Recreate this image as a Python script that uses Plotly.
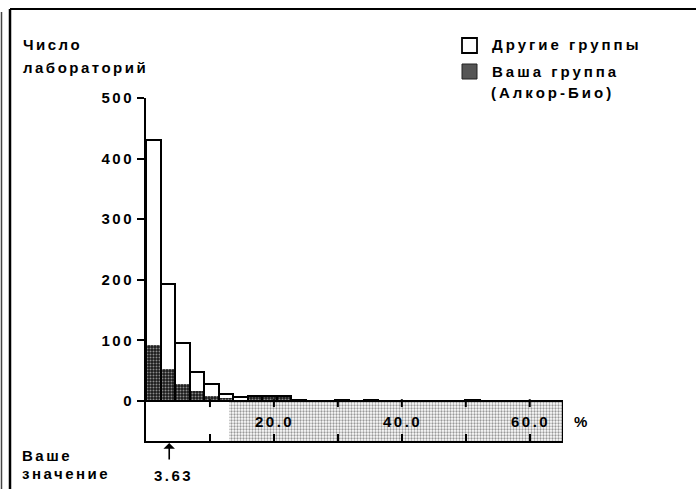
import plotly.graph_objects as go

# ---- data ----
bin_width = 2.27
total_counts = [430, 193, 95, 48, 28, 12, 6, 8, 8, 8, 2, 0, 0, 1, 0, 1, 0, 0, 0, 0, 0, 0, 1]
your_counts = [93, 52, 28, 17, 9, 5, 1, 8, 8, 8, 0, 0, 0, 0, 0, 0, 0, 0, 0, 0, 0, 0, 0]
y_ticks = [0, 100, 200, 300, 400, 500]
x_ticks = [10, 20, 30, 40, 50, 60]
x_label_vals = [20, 40, 60]
x_label_text = ["20.0", "40.0", "60.0"]
your_value = 3.63
your_value_text = "3.63"
limit_start = 13.0
x_max = 65.2
y_min = -66
y_max = 500
legend_other = "Другие группы"
legend_yours = ["Ваша группа", "(Алкор-Био)"]

W, H = 696, 489
L, R, T, B = 146, 133, 98, 48
FONT = "Liberation Sans, Arial, sans-serif"


def sp(text, s=2.5):
    return f"<span style='letter-spacing:{s}px'>{text}</span>"


def pxx(px):
    return (px - L) / (W - L - R)


def pxy(py):
    return (H - B - py) / (H - T - B)


centers = [(i + 0.5) * bin_width for i in range(len(total_counts))]

fig = go.Figure()

# shaded strip (region beyond limit)
fig.add_trace(go.Bar(
    x=[(limit_start + x_max) / 2], y=[-y_min], base=[y_min], width=[x_max - limit_start],
    marker=dict(color="white", line=dict(width=0),
                pattern=dict(shape=".", fgcolor="#333", bgcolor="white", size=3, solidity=0.45)),
    showlegend=False, hoverinfo="skip"))

# your group
fig.add_trace(go.Bar(
    x=centers, y=your_counts, width=[bin_width] * len(centers),
    name=" ".join(legend_yours), showlegend=False,
    marker=dict(color="#222", line=dict(width=0),
                pattern=dict(shape=".", fgcolor="white", bgcolor="#1a1a1a", size=3, solidity=0.35))))

# other groups (total outline)
fig.add_trace(go.Bar(
    x=centers, y=total_counts, width=[bin_width] * len(centers),
    name=legend_other, showlegend=False,
    marker=dict(color="rgba(0,0,0,0)", line=dict(color="black", width=2))))

shapes = []
shapes.append(dict(type="line", xref="x", yref="y", x0=0, x1=x_max, y0=0, y1=0,
                   line=dict(color="black", width=2), layer="above"))
shapes.append(dict(type="line", xref="x", yref="y", x0=x_max, x1=x_max, y0=y_min, y1=0,
                   line=dict(color="black", width=2), layer="above"))
for t in x_ticks:
    shapes.append(dict(type="line", xref="x", yref="y", x0=t, x1=t, y0=3, y1=-10,
                       line=dict(color="black", width=2), layer="above"))
# legend keys
shapes.append(dict(type="rect", xref="paper", yref="paper", x0=pxx(462), x1=pxx(477),
                   y0=pxy(53), y1=pxy(38), line=dict(color="black", width=1.8), fillcolor="white"))
shapes.append(dict(type="rect", xref="paper", yref="paper", x0=pxx(462), x1=pxx(477),
                   y0=pxy(79), y1=pxy(64), line=dict(color="#222", width=1), fillcolor="#555555"))
# scan frame lines
shapes.append(dict(type="line", xref="paper", yref="paper", x0=pxx(10), x1=pxx(10),
                   y0=pxy(9), y1=pxy(489), line=dict(color="black", width=2.5)))
shapes.append(dict(type="line", xref="paper", yref="paper", x0=pxx(10), x1=pxx(696),
                   y0=pxy(9), y1=pxy(9), line=dict(color="black", width=2)))
shapes.append(dict(type="line", xref="paper", yref="paper", x0=pxx(1.5), x1=pxx(1.5),
                   y0=pxy(12), y1=pxy(489), line=dict(color="#444", width=1.5)))

ann = []
f = dict(family=FONT, size=15, color="black", weight="bold")


def txt(px, py, text, s=2.5, anchor="left"):
    ann.append(dict(x=pxx(px), y=pxy(py), xref="paper", yref="paper", text=sp(text, s),
                    showarrow=False, font=f, xanchor=anchor, yanchor="middle"))


for v, t in zip(x_label_vals, x_label_text):
    ann.append(dict(x=v, y=pxy(421), xref="x", yref="paper", text=sp(t, 2.5), showarrow=False,
                    font=f, xanchor="center", yanchor="middle", xshift=1))
txt(572, 421, "%", 0)
txt(21, 45, "Число")
txt(21, 67, "лабораторий")
txt(20, 455, "Ваше")
txt(20, 474, "значение")
txt(490, 45, legend_other, 3)
txt(490, 71, legend_yours[0], 3)
txt(489, 93, legend_yours[1], 3)
ann.append(dict(x=your_value, y=pxy(475), xref="x", yref="paper", text=sp(your_value_text, 2.5),
                showarrow=False, font=f, xanchor="center", yanchor="middle", xshift=4))
ann.append(dict(x=your_value, y=pxy(443), xref="x", yref="paper", text="", showarrow=True,
                ax=0, ay=18, arrowhead=1, arrowsize=1.2, arrowwidth=1.6, arrowcolor="black"))

fig.update_layout(
    width=W, height=H,
    margin=dict(l=L, r=R, t=T, b=B, pad=0, autoexpand=False),
    paper_bgcolor="white", plot_bgcolor="white",
    barmode="overlay", bargap=0, showlegend=False,
    font=dict(family=FONT, color="black"),
    shapes=shapes, annotations=ann,
    xaxis=dict(range=[0, x_max], showline=True, linecolor="black", linewidth=2,
               ticks="inside", tickvals=x_ticks, ticklen=7, tickwidth=2, tickcolor="black",
               showticklabels=False, showgrid=False, zeroline=False, fixedrange=True,
               automargin=False),
    yaxis=dict(range=[y_min, y_max], showline=True, linecolor="black", linewidth=2,
               ticks="outside", tickvals=y_ticks, ticktext=[sp(str(v), 2.5) for v in y_ticks],
               ticklen=7, tickwidth=2, tickcolor="black", ticklabelstandoff=0,
               tickfont=dict(family=FONT, size=15, color="black", weight="bold"),
               showgrid=False, zeroline=False, fixedrange=True, automargin=False),
)

fig.write_html("out.html", config={"displayModeBar": False},
               post_script="document.body.style.margin='0';document.body.style.padding='0';")
